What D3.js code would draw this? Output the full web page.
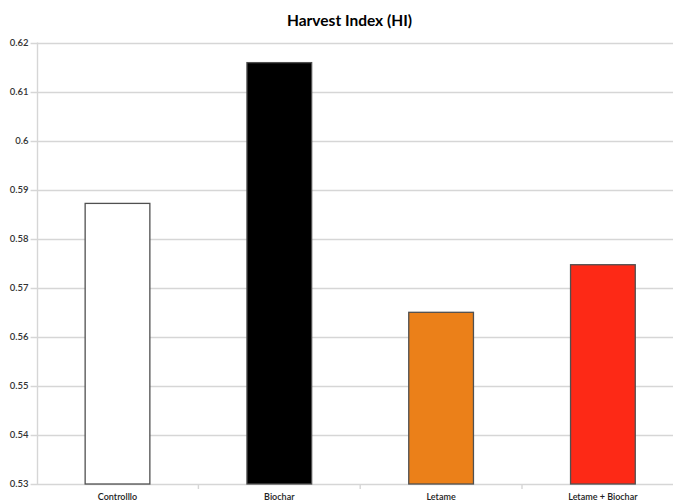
<!DOCTYPE html>
<html>
<head>
<meta charset="utf-8">
<script src="https://cdn.jsdelivr.net/npm/d3@7"></script>
<style>
  html, body { margin: 0; padding: 0; background: #fff; }
  svg { display: block; }
  text { font-family: Lato, "Open Sans", sans-serif; }
</style>
</head>
<body>
<svg id="chart" width="673" height="502"></svg>
<script>
// Harvest Index per treatment
const categories = ["Controlllo", "Biochar", "Letame", "Letame + Biochar"];
const values = [0.5872, 0.6159, 0.5650, 0.5747];
const barColors = ["#ffffff", "#000000", "#eb8019", "#fd2916"];
const yTicks = [0.53, 0.54, 0.55, 0.56, 0.57, 0.58, 0.59, 0.60, 0.61, 0.62];
const yTickLabels = ["0.53", "0.54", "0.55", "0.56", "0.57", "0.58", "0.59", "0.6", "0.61", "0.62"];
const title = "Harvest Index (HI)";

const svg = d3.select("#chart");
const W = 673;
const plot = { left: 36.6, right: 683.8, top: 42.5, bottom: 484 };

const x = d3.scaleBand()
  .domain(categories)
  .range([plot.left, plot.right])
  .paddingInner(0.6)
  .paddingOuter(0.3);

const y = d3.scaleLinear()
  .domain([0.53, 0.62])
  .range([plot.bottom, plot.top]);

// horizontal gridlines with short tick stubs on the left
svg.append("g")
  .selectAll("line")
  .data(yTicks)
  .join("line")
  .attr("x1", plot.left - 6)
  .attr("x2", W)
  .attr("y1", d => Math.round(y(d)) + 0.5)
  .attr("y2", d => Math.round(y(d)) + 0.5)
  .attr("stroke", "#d6d6d6")
  .attr("stroke-width", 1.4);

// vertical axis line
svg.append("line")
  .attr("x1", Math.round(plot.left) + 0.5)
  .attr("x2", Math.round(plot.left) + 0.5)
  .attr("y1", plot.top)
  .attr("y2", plot.bottom)
  .attr("stroke", "#d6d6d6")
  .attr("stroke-width", 1.4);

// category boundary ticks below the baseline
const step = x.step();
const bounds = d3.range(1, categories.length).map(i => plot.left + i * step);
svg.append("g")
  .selectAll("line")
  .data(bounds)
  .join("line")
  .attr("x1", d => d)
  .attr("x2", d => d)
  .attr("y1", plot.bottom)
  .attr("y2", plot.bottom + 5)
  .attr("stroke", "#d6d6d6")
  .attr("stroke-width", 1.4);

// y tick labels
svg.append("g")
  .selectAll("text")
  .data(yTicks)
  .join("text")
  .attr("x", plot.left - 8)
  .attr("y", d => y(d))
  .attr("dy", "0.35em")
  .attr("text-anchor", "end")
  .attr("font-size", 9.5)
  .attr("font-weight", 600)
  .attr("fill", "#333")
  .text((d, i) => yTickLabels[i]);

// bars
svg.append("g")
  .selectAll("rect")
  .data(categories)
  .join("rect")
  .attr("x", d => x(d))
  .attr("y", (d, i) => y(values[i]))
  .attr("width", x.bandwidth())
  .attr("height", (d, i) => y(0.53) - y(values[i]))
  .attr("fill", (d, i) => barColors[i])
  .attr("stroke", "#505050")
  .attr("stroke-width", 1.3);

// category labels
svg.append("g")
  .selectAll("text")
  .data(categories)
  .join("text")
  .attr("x", d => x(d) + x.bandwidth() / 2)
  .attr("y", 500)
  .attr("text-anchor", "middle")
  .attr("font-size", 9)
  .attr("font-weight", 600)
  .attr("fill", "#222")
  .text(d => d);

// title
svg.append("text")
  .attr("x", 349.5)
  .attr("y", 26)
  .attr("text-anchor", "middle")
  .attr("font-size", 15.5)
  .attr("font-weight", 700)
  .attr("fill", "#000")
  .text(title);
</script>
</body>
</html>
